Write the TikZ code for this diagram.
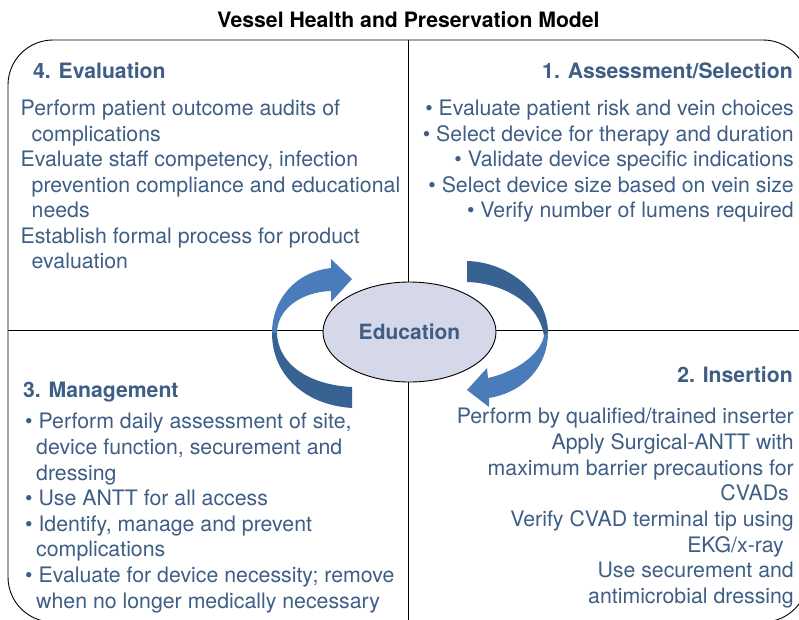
\documentclass[tikz,border=0pt]{standalone}
\usepackage{fontspec}
\setmainfont{TeX Gyre Heros}
\usetikzlibrary{shapes.geometric}
\definecolor{txtc}{RGB}{62,94,133}
\definecolor{arrlight}{RGB}{74,124,188}
\definecolor{arrdark}{RGB}{56,98,146}
\definecolor{ellfill}{RGB}{212,216,232}
\tikzset{
  body/.style={font=\fontsize{21.3}{25}\selectfont, text=txtc, inner sep=0pt},
  head/.style={font=\fontsize{21.2}{25}\selectfont\bfseries, text=txtc, inner sep=0pt},
  frameline/.style={draw=black, line width=0.9pt}
}
\begin{document}
\begin{tikzpicture}[x=1pt,y=-1pt]
\useasboundingbox (0,0) rectangle (799,619);
\clip (0,0) rectangle (799,619);
\fill[white] (0,0) rectangle (799,619);

% title
\node[font=\fontsize{21.2}{25}\selectfont\bfseries, text=black, anchor=base, inner sep=0pt] (title) at (408.5,27) {Vessel Health and Preservation Model};

% frame and quadrant lines
\draw[frameline, rounded corners=45pt] (8,40) rectangle (808,622);
\coordinate (vtop) at (408,40);
\coordinate (vbot) at (408,622);
\coordinate (hleft) at (8,330);
\coordinate (hright) at (808,330);
\draw[frameline] (vtop) -- (vbot);
\draw[frameline] (hleft) -- (hright);

% left arrow
\fill[arrdark] (272,333) .. controls (272,375) and (305,405) .. (352,408) -- (352,387) .. controls (310,385) and (278,365) .. (277,333) -- cycle;
\fill[arrlight] (277,333) .. controls (277,310) and (300,292) .. (331,291) -- (331,302) -- (352,279) -- (331,259) -- (331,268) .. controls (295,272) and (272,300) .. (272,333) -- cycle;

% right arrow
\fill[arrdark] (467,261) .. controls (510,262) and (548,295) .. (548,333) -- (544,336) .. controls (540,305) and (505,283) .. (467,282) -- cycle;
\fill[arrlight] (548,333) .. controls (548,365) and (525,392) .. (489,398) -- (489,407) -- (467,390) -- (487,368) -- (488,378) .. controls (515,372) and (540,355) .. (544,336) -- cycle;

% centre ellipse
\node[ellipse, draw=black, line width=0.9pt, fill=ellfill, minimum width=173pt, minimum height=100pt, inner sep=0pt, font=\fontsize{21}{25}\selectfont\bfseries, text=txtc] (edu) at (409.5,332) {Education};

% headers
\node[head, anchor=base west] (h4) at (33,78) {4. Evaluation};
\node[head, anchor=base east] (h1) at (793,78) {1. Assessment/Selection};
\node[head, anchor=base west] (h3) at (23,397) {3. Management};
\node[head, anchor=base east] (h2) at (793,382) {2. Insertion};

% quadrant 4
\node[body, anchor=base west] (e1) at (20.5,115.5) {Perform patient outcome audits of};
\node[body, anchor=base west] (e2) at (31.5,141) {complications};
\node[body, anchor=base west] (e3) at (20.5,166.5) {Evaluate staff competency, infection};
\node[body, anchor=base west] (e4) at (31.5,192) {prevention compliance and educational};
\node[body, anchor=base west] (e5) at (31.5,217.5) {needs};
\node[body, anchor=base west] (e6) at (20.5,243) {Establish formal process for product};
\node[body, anchor=base west] (e7) at (31.5,268.5) {evaluation};

% quadrant 1
\node[body, anchor=base east] (a1) at (794,115.5) {• Evaluate patient risk and vein choices};
\node[body, anchor=base east] (a2) at (794,141) {• Select device for therapy and duration};
\node[body, anchor=base east] (a3) at (794,166.5) {• Validate device specific indications};
\node[body, anchor=base east] (a4) at (794,192) {• Select device size based on vein size};
\node[body, anchor=base east] (a5) at (794,217.5) {• Verify number of lumens required};

% quadrant 3
\node[body, anchor=base west] (m1) at (25,428) {• Perform daily assessment of site,};
\node[body, anchor=base west] (m2) at (36,454) {device function, securement and};
\node[body, anchor=base west] (m3) at (36,480) {dressing};
\node[body, anchor=base west] (m4) at (25,505.5) {• Use ANTT for all access};
\node[body, anchor=base west] (m5) at (25,531) {• Identify, manage and prevent};
\node[body, anchor=base west] (m6) at (36,556.5) {complications};
\node[body, anchor=base west] (m7) at (25,582) {• Evaluate for device necessity; remove};
\node[body, anchor=base west] (m8) at (36,608) {when no longer medically necessary};

% quadrant 2
\node[body, anchor=base east] (i1) at (794,423) {Perform by qualified/trained inserter};
\node[body, anchor=base east] (i2) at (794,449) {Apply Surgical-ANTT with};
\node[body, anchor=base east] (i3) at (794,475) {maximum barrier precautions for};
\node[body, anchor=base east] (i4) at (789,500.5) {CVADs};
\node[body, anchor=base east] (i5) at (794,526) {Verify CVAD terminal tip using};
\node[body, anchor=base east] (i6) at (784,552) {EKG/x-ray};
\node[body, anchor=base east] (i7) at (794,577.5) {Use securement and};
\node[body, anchor=base east] (i8) at (794,603) {antimicrobial dressing};
\end{tikzpicture}
\end{document}
